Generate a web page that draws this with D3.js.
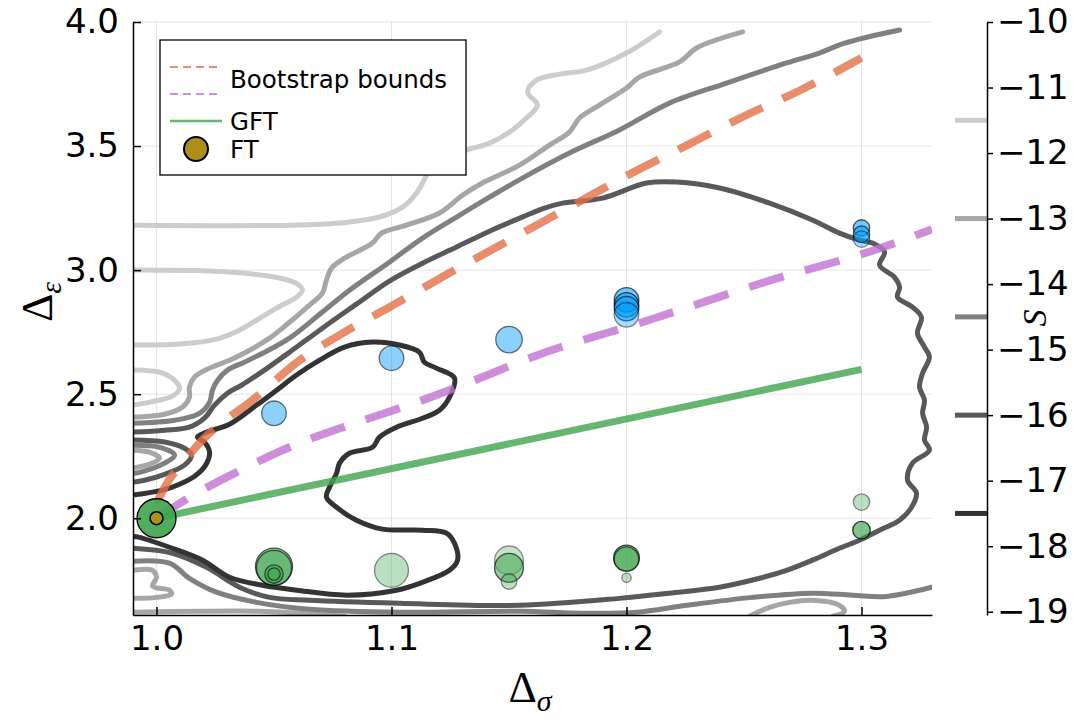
<!DOCTYPE html>
<html lang="en">
<head>
<meta charset="UTF-8">
<title>Bootstrap bounds</title>
<style>
  body { margin: 0; background: #fff; }
  text { font-family: "DejaVu Sans", sans-serif; fill: #000; }
  .axis path, .axis line { stroke: #000; stroke-width: 1.5; }
  .axis text { font-size: 34px; }
</style>
</head>
<body>
<svg width="1084" height="727" id="viz"></svg>
<script src="https://cdn.jsdelivr.net/npm/d3@7/dist/d3.min.js"></script>
<script>
/* global d3 */

// ---- ticks / levels
const sigmaTicks = [1.0, 1.1, 1.2, 1.3];
const epsTicks = [2.0, 2.5, 3.0, 3.5, 4.0];
const sTicks = [-10, -11, -12, -13, -14, -15, -16, -17, -18, -19];
const levels = [-11.5, -13, -14.5, -16, -17.5];

// ---- contour lines of S as [sigma, eps]
const c115a = [[0.9898,3.181],[1.0566,3.181],[1.0779,3.190],[1.0949,3.214],[1.1047,3.254],[1.1106,3.310],[1.1132,3.351],[1.1162,3.403],[1.1226,3.452],[1.1319,3.484],[1.1417,3.512],[1.1515,3.565],[1.1574,3.613],[1.1621,3.665],[1.1579,3.718],[1.1617,3.766],[1.1715,3.790],[1.1830,3.806],[1.2000,3.875],[1.2140,3.960]];
const c115b = [[0.9898,3.000],[1.0311,2.992],[1.0523,2.968],[1.0600,2.944],[1.0621,2.919],[1.0596,2.891],[1.0511,2.847],[1.0426,2.798],[1.0353,2.758],[1.0255,2.722],[1.0098,2.702],[0.9898,2.698]];
const c115c = [[0.9898,2.597],[1.0026,2.585],[1.0085,2.548],[1.0098,2.524],[1.0068,2.492],[0.9970,2.468],[0.9898,2.456]];

const c13a = [[0.9898,2.407],[1.0034,2.419],[1.0111,2.448],[1.0140,2.488],[1.0140,2.528],[1.0162,2.569],[1.0226,2.605],[1.0311,2.637],[1.0396,2.677],[1.0481,2.726],[1.0566,2.790],[1.0651,2.859],[1.0706,2.907],[1.0723,2.960],[1.0745,3.008],[1.0800,3.048],[1.0919,3.109],[1.0957,3.149],[1.1064,3.181],[1.1204,3.230],[1.1302,3.302],[1.1387,3.351],[1.1545,3.423],[1.1672,3.504],[1.1757,3.556],[1.1800,3.613],[1.1885,3.665],[1.2000,3.734],[1.2055,3.778],[1.2226,3.839],[1.2298,3.895],[1.2494,3.960]];
const c13b = [[0.9898,2.274],[0.9970,2.266],[1.0013,2.242],[0.9970,2.218],[0.9898,2.202]];
const c13c = [[0.9898,1.790],[0.9983,1.790],[1.0000,1.762],[0.9983,1.726],[1.0055,1.710],[1.0064,1.694],[1.0000,1.681],[0.9898,1.677]];
const c13d = [[0.9898,1.621],[1.0183,1.625],[1.0438,1.625],[1.0609,1.617],[1.0800,1.605]];
const c13e = [[1.2523,1.605],[1.2609,1.641],[1.2694,1.661],[1.2791,1.669],[1.2906,1.649],[1.2928,1.625],[1.2877,1.605]];

const c145a = [[0.9898,2.383],[1.0077,2.395],[1.0183,2.423],[1.0226,2.468],[1.0238,2.516],[1.0260,2.556],[1.0302,2.597],[1.0374,2.629],[1.0460,2.669],[1.0566,2.726],[1.0706,2.831],[1.0821,2.919],[1.0991,3.032],[1.1132,3.129],[1.1277,3.214],[1.1417,3.294],[1.1557,3.371],[1.1757,3.472],[1.1970,3.565],[1.2183,3.673],[1.2426,3.754],[1.2681,3.835],[1.2821,3.875],[1.2928,3.915],[1.3162,3.968]];
const c145b = [[0.9898,2.294],[1.0013,2.286],[1.0077,2.254],[1.0034,2.222],[0.9928,2.185],[0.9898,2.181]];
const c145c = [[0.9898,1.827],[1.0055,1.819],[1.0140,1.758],[1.0255,1.702],[1.0426,1.661],[1.0651,1.633],[1.1034,1.621],[1.1545,1.625],[1.1813,1.617],[1.2043,1.621],[1.2255,1.649],[1.2536,1.681],[1.2791,1.698],[1.2962,1.690],[1.3106,1.685],[1.3298,1.722]];

const c16a = [[0.9898,2.347],[1.0034,2.355],[1.0140,2.367],[1.0204,2.403],[1.0247,2.456],[1.0302,2.504],[1.0362,2.536],[1.0447,2.589],[1.0566,2.669],[1.0706,2.766],[1.0851,2.863],[1.0991,2.956],[1.1132,3.028],[1.1277,3.093],[1.1417,3.157],[1.1557,3.214],[1.1651,3.250],[1.1728,3.270],[1.1898,3.290],[1.2085,3.351],[1.2213,3.355],[1.2396,3.331],[1.2609,3.270],[1.2791,3.202],[1.2906,3.149],[1.2991,3.121],[1.3047,3.109],[1.3098,3.073],[1.3077,3.020],[1.3140,2.972],[1.3162,2.931],[1.3153,2.891],[1.3217,2.851],[1.3255,2.810],[1.3238,2.746],[1.3268,2.690],[1.3289,2.649],[1.3260,2.585],[1.3247,2.528],[1.3268,2.476],[1.3260,2.423],[1.3277,2.367],[1.3268,2.315],[1.3289,2.274],[1.3217,2.222],[1.3196,2.153],[1.3234,2.101],[1.3213,2.044],[1.3162,1.992],[1.3077,1.952],[1.2991,1.911],[1.2906,1.879],[1.2791,1.831],[1.2681,1.790],[1.2566,1.758],[1.2396,1.722],[1.2183,1.698],[1.1970,1.677],[1.1545,1.649],[1.1034,1.657],[1.0651,1.669],[1.0481,1.681],[1.0353,1.722],[1.0213,1.802],[1.0068,1.859],[0.9898,1.879]];
const c16b = [[0.9898,2.315],[1.0034,2.307],[1.0119,2.282],[1.0149,2.254],[1.0119,2.214],[1.0034,2.177],[0.9949,2.153],[0.9898,2.145]];

const c175a = [[0.9898,2.093],[1.0026,2.113],[1.0098,2.137],[1.0162,2.169],[1.0209,2.214],[1.0226,2.266],[1.0204,2.307],[1.0174,2.327],[1.0213,2.347],[1.0311,2.379],[1.0426,2.456],[1.0511,2.516],[1.0596,2.577],[1.0694,2.637],[1.0800,2.690],[1.0919,2.710],[1.1034,2.698],[1.1119,2.669],[1.1140,2.629],[1.1191,2.605],[1.1268,2.565],[1.1247,2.488],[1.1204,2.435],[1.1132,2.403],[1.1021,2.367],[1.0949,2.327],[1.0919,2.286],[1.0821,2.262],[1.0779,2.222],[1.0766,2.181],[1.0736,2.125],[1.0723,2.085],[1.0766,2.044],[1.0851,1.992],[1.0962,1.956],[1.1132,1.952],[1.1234,1.940],[1.1268,1.899],[1.1281,1.831],[1.1247,1.790],[1.1132,1.742],[1.1021,1.710],[1.0809,1.690],[1.0596,1.710],[1.0451,1.730],[1.0311,1.762],[1.0196,1.831],[1.0055,1.883],[0.9928,1.923],[0.9898,1.927]];

const contourLines = [
  {level: -11.5, pts: c115a}, {level: -11.5, pts: c115b}, {level: -11.5, pts: c115c},
  {level: -13, pts: c13a}, {level: -13, pts: c13b}, {level: -13, pts: c13c}, {level: -13, pts: c13d}, {level: -13, pts: c13e},
  {level: -14.5, pts: c145a}, {level: -14.5, pts: c145b}, {level: -14.5, pts: c145c},
  {level: -16, pts: c16a}, {level: -16, pts: c16b},
  {level: -17.5, pts: c175a}
];

// ---- bootstrap bounds and GFT line
const upperSigma = [1.0, 1.005, 1.01, 1.02, 1.03, 1.04, 1.06, 1.08, 1.10, 1.125, 1.15, 1.175, 1.2, 1.225, 1.25, 1.275, 1.3];
const upperEps   = [2.06, 2.15, 2.21, 2.32, 2.40, 2.47, 2.63, 2.75, 2.855, 2.99, 3.12, 3.25, 3.38, 3.50, 3.62, 3.73, 3.855];
const lowerSigma = [1.0, 1.015, 1.035, 1.06, 1.085, 1.11, 1.135, 1.16, 1.21, 1.26, 1.31, 1.33];
const lowerEps   = [2.0, 2.09, 2.19, 2.30, 2.385, 2.465, 2.555, 2.65, 2.80, 2.955, 3.095, 3.165];
const gftSigma = [1.0, 1.3];
const gftEps   = [2.0, 2.6];

// ---- points
const greenSigma  = [1.0, 1.05, 1.05, 1.05, 1.05, 1.1, 1.15, 1.15, 1.15, 1.2, 1.2, 1.2, 1.3, 1.3];
const greenEps    = [2.0, 1.805, 1.80, 1.775, 1.775, 1.79, 1.83, 1.80, 1.745, 1.84, 1.835, 1.76, 2.065, 1.952];
const greenWeight = [1.0, 0.95, 0.9, 0.47, 0.32, 0.87, 0.74, 0.74, 0.4, 0.66, 0.63, 0.24, 0.42, 0.45];
const greenAlpha  = [0.9, 0.55, 0.5, 0.5, 0.5, 0.35, 0.3, 0.55, 0.35, 0.6, 0.5, 0.35, 0.35, 0.65];

const blueSigma  = [1.05, 1.1, 1.15, 1.2, 1.2, 1.2, 1.2, 1.3, 1.3, 1.3];
const blueEps    = [2.423, 2.645, 2.72, 2.88, 2.86, 2.845, 2.82, 3.17, 3.145, 3.125];
const blueWeight = [0.63, 0.63, 0.68, 0.63, 0.63, 0.63, 0.63, 0.42, 0.42, 0.42];
const blueAlpha  = [0.45, 0.45, 0.45, 0.55, 0.55, 0.55, 0.35, 0.55, 0.55, 0.35];

const ftSigma = [1.0];
const ftEps = [2.0];

// ---- layout
let svg = d3.select("#viz"),
  plot = {left: 133, right: 932, top: 22, bottom: 615};

let x = d3.scaleLinear().domain([0.99, 1.33]).range([plot.left, plot.right]);
let y = d3.scaleLinear().domain([1.61, 4.0]).range([plot.bottom, plot.top]);
let cbar = d3.scaleLinear().domain([-19.05, -10]).range([plot.bottom, plot.top]);
let gray = d3.scaleLinear().domain([-11.5, -17.5]).range(["#cccccc", "#333333"]);
let r = d3.scaleLinear().domain([0, 1]).range([0, 19.5]);

svg.append("defs").append("clipPath").attr("id", "clip")
  .append("rect")
  .attr("x", plot.left).attr("y", plot.top)
  .attr("width", plot.right - plot.left).attr("height", plot.bottom - plot.top);

// grid
let grid = svg.append("g").attr("stroke", "#000").attr("stroke-opacity", 0.1).attr("stroke-width", 1);
grid.selectAll(".gx").data(sigmaTicks).join("line")
  .attr("x1", d => x(d)).attr("x2", d => x(d))
  .attr("y1", plot.top).attr("y2", plot.bottom);
grid.selectAll(".gy").data(epsTicks).join("line")
  .attr("x1", plot.left).attr("x2", plot.right)
  .attr("y1", d => y(d)).attr("y2", d => y(d));

let g = svg.append("g").attr("clip-path", "url(#clip)");

// contours
let contourLine = d3.line()
  .x(d => x(d[0])).y(d => y(d[1]))
  .curve(d3.curveCatmullRom.alpha(0.5));

g.selectAll(".contour")
  .data(contourLines)
  .join("path")
  .attr("class", "contour")
  .attr("d", d => contourLine(d.pts))
  .attr("fill", "none")
  .attr("stroke", d => gray(d.level))
  .attr("stroke-width", 5)
  .attr("stroke-linejoin", "round")
  .attr("stroke-linecap", "round");

// lines
let smooth = d3.line().x(d => x(d[0])).y(d => y(d[1])).curve(d3.curveMonotoneX);

g.append("path")
  .attr("d", smooth(d3.zip(upperSigma, upperEps)))
  .attr("fill", "none").attr("stroke", "#e26f46").attr("stroke-opacity", 0.8)
  .attr("stroke-width", 8).attr("stroke-dasharray", "36,22");

g.append("path")
  .attr("d", smooth(d3.zip(lowerSigma, lowerEps)))
  .attr("fill", "none").attr("stroke", "#c271d2").attr("stroke-opacity", 0.8)
  .attr("stroke-width", 8).attr("stroke-dasharray", "36,22");

g.append("path")
  .attr("d", smooth(d3.zip(gftSigma, gftEps)))
  .attr("fill", "none").attr("stroke", "#3da44d").attr("stroke-opacity", 0.8)
  .attr("stroke-width", 7);

// points
function dots(cls, color, xs, ys, ws, as) {
  let data = xs.map((v, i) => ({s: v, e: ys[i], w: ws[i], a: as[i]}));
  g.selectAll("." + cls)
    .data(data)
    .join("circle")
    .attr("class", cls)
    .attr("cx", d => x(d.s))
    .attr("cy", d => y(d.e))
    .attr("r", d => r(d.w))
    .attr("fill", color)
    .attr("fill-opacity", d => d.a)
    .attr("stroke", "#000")
    .attr("stroke-opacity", d => Math.min(1, d.a + 0.1))
    .attr("stroke-width", 1.3);
}
dots("green", "#3da44d", greenSigma, greenEps, greenWeight, greenAlpha);
dots("blue", "#009af9", blueSigma, blueEps, blueWeight, blueAlpha);

g.selectAll(".ft")
  .data(d3.zip(ftSigma, ftEps))
  .join("circle")
  .attr("class", "ft")
  .attr("cx", d => x(d[0])).attr("cy", d => y(d[1]))
  .attr("r", 6.5)
  .attr("fill", "#ac8e18").attr("stroke", "#000").attr("stroke-width", 1.5);

// axes
svg.append("g")
  .attr("class", "axis")
  .attr("transform", "translate(0," + plot.bottom + ")")
  .call(d3.axisBottom(x).tickValues(sigmaTicks).tickFormat(d3.format(".1f"))
    .tickSizeInner(-8).tickSizeOuter(0).tickPadding(11));

svg.append("g")
  .attr("class", "axis")
  .attr("transform", "translate(" + plot.left + ",0)")
  .call(d3.axisLeft(y).tickValues(epsTicks).tickFormat(d3.format(".1f"))
    .tickSizeInner(-8).tickSizeOuter(0).tickPadding(14));

// colorbar
let cb = svg.append("g");
cb.selectAll(".lvl")
  .data(levels)
  .join("line")
  .attr("x1", 955).attr("x2", 987)
  .attr("y1", d => cbar(d)).attr("y2", d => cbar(d))
  .attr("stroke", d => gray(d))
  .attr("stroke-width", 5);

svg.append("g")
  .attr("class", "axis")
  .attr("transform", "translate(987,0)")
  .call(d3.axisRight(cbar).tickValues(sTicks).tickFormat(d3.format("d"))
    .tickSizeInner(6).tickSizeOuter(0).tickPadding(4));

// axis titles
let xt = svg.append("text")
  .attr("x", 530).attr("y", 702)
  .attr("text-anchor", "middle")
  .style("font-family", "'Liberation Serif', serif")
  .style("font-size", "44px");
xt.append("tspan").text("Δ");
xt.append("tspan").attr("dy", 9).style("font-size", "30px").style("font-style", "italic").text("σ");

let yt = svg.append("text")
  .attr("transform", "translate(52,302) rotate(-90)")
  .attr("text-anchor", "middle")
  .style("font-family", "'Liberation Serif', serif")
  .style("font-size", "44px");
yt.append("tspan").text("Δ");
yt.append("tspan").attr("dy", 9).style("font-size", "30px").style("font-style", "italic").text("ε");

svg.append("text")
  .attr("transform", "translate(1046,318) rotate(-90)")
  .attr("text-anchor", "middle")
  .style("font-family", "'Liberation Serif', serif")
  .style("font-style", "italic")
  .style("font-size", "34px")
  .text("S");

// legend
let lg = svg.append("g");
lg.append("rect")
  .attr("x", 160).attr("y", 40).attr("width", 306).attr("height", 135)
  .attr("fill", "#fff").attr("stroke", "#000").attr("stroke-width", 1.3);

lg.append("line").attr("x1", 170).attr("x2", 222).attr("y1", 67).attr("y2", 67)
  .attr("stroke", "#e26f46").attr("stroke-opacity", 0.8).attr("stroke-width", 2).attr("stroke-dasharray", "8,5");
lg.append("line").attr("x1", 170).attr("x2", 222).attr("y1", 94).attr("y2", 94)
  .attr("stroke", "#c271d2").attr("stroke-opacity", 0.8).attr("stroke-width", 2).attr("stroke-dasharray", "8,5");
lg.append("line").attr("x1", 170).attr("x2", 222).attr("y1", 121).attr("y2", 121)
  .attr("stroke", "#3da44d").attr("stroke-opacity", 0.8).attr("stroke-width", 2.5);
lg.append("circle").attr("cx", 196).attr("cy", 149).attr("r", 12)
  .attr("fill", "#ac8e18").attr("stroke", "#000").attr("stroke-width", 2);

lg.selectAll(".lt")
  .data([["Bootstrap bounds", 79], ["GFT", 121], ["FT", 149]])
  .join("text")
  .attr("x", 230).attr("y", d => d[1])
  .attr("dy", "0.35em")
  .style("font-size", "24.5px")
  .text(d => d[0]);
</script>
</body>
</html>
